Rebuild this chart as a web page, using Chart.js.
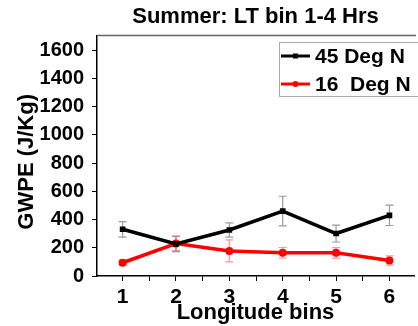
<!DOCTYPE html>
<html>
<head>
<meta charset="utf-8">
<script src="https://cdn.jsdelivr.net/npm/chart.js@4.4.1/dist/chart.umd.min.js"></script>
<style>
  html, body { margin: 0; padding: 0; background: #fff; overflow: hidden; }
</style>
</head>
<body>
<canvas id="gwpe" width="418" height="326"></canvas>
<script>
// values
const longitudeBins = [1, 2, 3, 4, 5, 6];
const gwpe45 = [331, 228, 326, 460, 301, 430];
const err45 = [55, 55, 50, 105, 60, 72];
const gwpe16 = [94, 230, 178, 164, 164, 110];
const err16 = [18, 50, 78, 38, 37, 33];
const yTicks = [0, 100, 200, 300, 400, 500, 600, 700, 800, 900, 1000, 1100, 1200, 1300, 1400, 1500, 1600];
const xTicks = [1, 1.5, 2, 2.5, 3, 3.5, 4, 4.5, 5, 5.5, 6];
const seriesNames = ['45 Deg N', '16  Deg N'];

const FONT = "'Liberation Sans', Arial, sans-serif";

const toPoints = (vals) => vals.map((v, i) => ({ x: longitudeBins[i], y: v }))

const errorBars = {
    id: 'errorBars',
    beforeDatasetsDraw(chart) {
        const ctx = chart.ctx
        const xs = chart.scales.x
        const ys = chart.scales.y
        chart.data.datasets.forEach((ds) => {
            ctx.save()
            ctx.strokeStyle = ds.errColor
            ctx.lineWidth = 1.2
            ds.data.forEach((p, i) => {
                const px = xs.getPixelForValue(p.x)
                const top = ys.getPixelForValue(p.y + ds.err[i])
                const bot = ys.getPixelForValue(p.y - ds.err[i])
                ctx.beginPath()
                ctx.moveTo(px, top); ctx.lineTo(px, bot)
                ctx.moveTo(px - 4, top); ctx.lineTo(px + 4, top)
                ctx.moveTo(px - 4, bot); ctx.lineTo(px + 4, bot)
                ctx.stroke()
            })
            ctx.restore()
        })
    }
}

const frameAndLegend = {
    id: 'frameAndLegend',
    afterDraw(chart) {
        const ctx = chart.ctx
        const a = chart.chartArea
        ctx.save()
        // top frame line
        ctx.strokeStyle = '#666'
        ctx.lineWidth = 1.5
        ctx.beginPath()
        ctx.moveTo(a.left, a.top); ctx.lineTo(a.right + 2, a.top)
        ctx.stroke()

        // legend box
        const bx = 279, by = 42, bw = 150, bh = 54
        ctx.strokeStyle = '#aaa'
        ctx.lineWidth = 1
        ctx.strokeRect(bx + 0.5, by + 0.5, bw, bh)
        ctx.font = 'bold 21px ' + FONT
        ctx.textBaseline = 'middle'
        chart.data.datasets.forEach((ds, i) => {
            const ly = by + 14 + i * 28
            ctx.strokeStyle = ds.borderColor
            ctx.lineWidth = 3
            ctx.beginPath()
            ctx.moveTo(bx + 2, ly); ctx.lineTo(bx + 31, ly)
            ctx.stroke()
            ctx.fillStyle = ds.borderColor
            if (ds.pointStyle === 'rect') {
                ctx.fillRect(bx + 14, ly - 2.5, 5, 5)
            } else {
                ctx.beginPath(); ctx.arc(bx + 16.5, ly, 3, 0, Math.PI * 2); ctx.fill()
            }
            ctx.fillStyle = '#000'
            ctx.fillText(ds.label, bx + 36, ly + 1)
        })
        ctx.restore()
    }
}

new Chart(document.getElementById('gwpe'), {
    type: 'line',
    data: {
        datasets: [
            {
                label: seriesNames[0],
                data: toPoints(gwpe45),
                err: err45,
                errColor: 'rgba(120,120,120,0.75)',
                borderColor: '#000000',
                backgroundColor: '#000000',
                borderWidth: 3.5,
                pointStyle: 'rect',
                pointRadius: 4,
                pointBorderWidth: 0
            },
            {
                label: seriesNames[1],
                data: toPoints(gwpe16),
                err: err16,
                errColor: 'rgba(255,80,80,0.6)',
                borderColor: '#ff0000',
                backgroundColor: '#ff0000',
                borderWidth: 3.5,
                pointStyle: 'circle',
                pointRadius: 4,
                pointBorderWidth: 0
            }
        ]
    },
    options: {
        responsive: false,
        animation: false,
        layout: { padding: { left: 0, right: 0, top: 0, bottom: 0 } },
        plugins: {
            legend: { display: false },
            tooltip: { enabled: false },
            title: {
                display: true,
                text: 'Summer: LT bin 1-4 Hrs',
                fullSize: false,
                color: '#000',
                font: { family: FONT, size: 22, weight: 'bold', lineHeight: 1.2 },
                padding: { top: 4, bottom: 5 }
            }
        },
        scales: {
            x: {
                type: 'linear',
                min: 0.52,
                max: 6.46,
                afterBuildTicks: (s) => { s.ticks = xTicks.map(v => ({ value: v })) },
                afterFit: (s) => { s.height = 50 },
                ticks: {
                    color: '#000',
                    padding: 4,
                    maxRotation: 0,
                    font: { family: FONT, size: 21, weight: 'bold' },
                    callback: (v) => Number.isInteger(v) ? String(v) : ''
                },
                grid: { drawOnChartArea: false, drawTicks: true, tickLength: 5, color: '#000' },
                border: { display: true, color: '#000', width: 1.5 },
                title: {
                    display: true,
                    text: 'Longitude bins',
                    color: '#000',
                    font: { family: FONT, size: 22, weight: 'bold', lineHeight: 1.2 },
                    padding: { top: 0, bottom: 0 }
                }
            },
            y: {
                min: 0,
                max: 1705,
                afterBuildTicks: (s) => { s.ticks = yTicks.map(v => ({ value: v })) },
                afterFit: (s) => { s.width = 97 },
                ticks: {
                    color: '#000',
                    padding: 8,
                    font: { family: FONT, size: 20, weight: 'bold' },
                    callback: (v) => v % 200 === 0 ? String(v) : ''
                },
                grid: { drawOnChartArea: false, drawTicks: true, tickLength: 5, color: '#000' },
                border: { display: true, color: '#000', width: 1.5 },
                title: {
                    display: true,
                    text: 'GWPE (J/Kg)  ',
                    color: '#000',
                    font: { family: FONT, size: 22, weight: 'bold', lineHeight: 1.2 },
                    padding: { top: 14, bottom: 0 }
                }
            }
        }
    },
    plugins: [errorBars, frameAndLegend]
})
</script>
</body>
</html>
